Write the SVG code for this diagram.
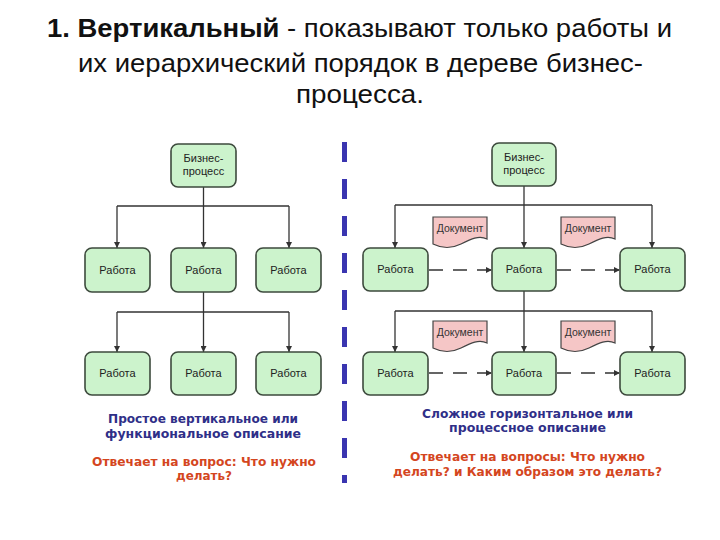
<svg xmlns="http://www.w3.org/2000/svg" width="720" height="540" viewBox="0 0 720 540">
<style>
.title{font-family:"Liberation Sans",Arial,sans-serif;font-size:26px;fill:#111}
.box{fill:#ccf3cc;stroke:#3d4a3d;stroke-width:1.6}
.doc{fill:#f5c6c6;stroke:#444;stroke-width:1.2}
.bt{font-family:"Liberation Sans",Arial,sans-serif;font-size:11px;fill:#222;text-anchor:middle}
.dt{font-family:"Liberation Sans",Arial,sans-serif;font-size:10.5px;fill:#333;text-anchor:middle}
.ln{fill:none;stroke:#333;stroke-width:1.3}
.dash{fill:none;stroke:#333;stroke-width:1.3;stroke-dasharray:14 10}
.blue{font-family:"DejaVu Sans",Verdana,sans-serif;font-weight:bold;font-size:12.5px;fill:#2f2f88;text-anchor:middle}
.red{font-family:"DejaVu Sans",Verdana,sans-serif;font-weight:bold;font-size:12.5px;fill:#d4461e;text-anchor:middle}
</style>
<defs>
<marker id="arr" viewBox="0 0 8 8" refX="8" refY="4" markerWidth="6" markerHeight="6" orient="auto" markerUnits="userSpaceOnUse">
<path d="M0 0 L8 4 L0 8 Z" fill="#333"/>
</marker>
<path id="docshape" d="M0 0 H54 V22 C46 18 38 22 28 27 C18 32 8 31 0 27 Z"/>
</defs>
<rect width="720" height="540" fill="#fff"/>

<g id="title">
<text class="title" x="359.5" y="37" text-anchor="middle" textLength="625" lengthAdjust="spacingAndGlyphs"><tspan font-weight="bold">1. Вертикальный</tspan> - показывают только работы и</text>
<text class="title" x="360.5" y="72" text-anchor="middle" textLength="565" lengthAdjust="spacingAndGlyphs">их иерархический порядок в дереве бизнес-</text>
<text class="title" x="360" y="103" text-anchor="middle" textLength="128" lengthAdjust="spacingAndGlyphs">процесса.</text>
</g>

<g id="divider">
<line x1="344.5" y1="142" x2="344.5" y2="483" stroke="#3a35b0" stroke-width="5" stroke-dasharray="20 17"/>
</g>

<g id="connectors">
<line class="ln" x1="203.5" y1="187" x2="203.5" y2="206" stroke-width="2"/>
<line class="ln" x1="117" y1="206" x2="289" y2="206"/>
<line class="ln" x1="117" y1="206" x2="117" y2="248" marker-end="url(#arr)"/>
<line class="ln" x1="203.5" y1="206" x2="203.5" y2="248" marker-end="url(#arr)"/>
<line class="ln" x1="289" y1="206" x2="289" y2="248" marker-end="url(#arr)"/>
<line class="ln" x1="203.5" y1="292" x2="203.5" y2="312" stroke-width="2"/>
<line class="ln" x1="117" y1="312" x2="289" y2="312"/>
<line class="ln" x1="117" y1="312" x2="117" y2="352" marker-end="url(#arr)"/>
<line class="ln" x1="203.5" y1="312" x2="203.5" y2="352" marker-end="url(#arr)"/>
<line class="ln" x1="289" y1="312" x2="289" y2="352" marker-end="url(#arr)"/>
<line class="ln" x1="524" y1="186" x2="524" y2="248" marker-end="url(#arr)"/>
<line class="ln" x1="395" y1="205" x2="652" y2="205"/>
<line class="ln" x1="395" y1="205" x2="395" y2="248" marker-end="url(#arr)"/>
<line class="ln" x1="652" y1="205" x2="652" y2="248" marker-end="url(#arr)"/>
<line class="ln" x1="524" y1="291" x2="524" y2="352" marker-end="url(#arr)"/>
<line class="ln" x1="395" y1="311" x2="652" y2="311"/>
<line class="ln" x1="395" y1="311" x2="395" y2="352" marker-end="url(#arr)"/>
<line class="ln" x1="652" y1="311" x2="652" y2="352" marker-end="url(#arr)"/>
<line class="dash" x1="429" y1="270" x2="492" y2="270" marker-end="url(#arr)"/>
<line class="dash" x1="557" y1="270" x2="620" y2="270" marker-end="url(#arr)"/>
<line class="dash" x1="429" y1="373" x2="492" y2="373" marker-end="url(#arr)"/>
<line class="dash" x1="557" y1="373" x2="620" y2="373" marker-end="url(#arr)"/>
</g>

<g id="l-bp"><rect class="box" x="171" y="144" width="65" height="43" rx="7"/><text class="bt" x="203.5" y="162" font-size="10.5">Бизнес-</text><text class="bt" x="203.5" y="175" font-size="10.5">процесс</text></g>
<g id="l-r1a"><rect class="box" x="85" y="248" width="65" height="44" rx="7"/><text class="bt" x="117.5" y="274">Работа</text></g>
<g id="l-r1b"><rect class="box" x="171" y="248" width="65" height="44" rx="7"/><text class="bt" x="203.5" y="274">Работа</text></g>
<g id="l-r1c"><rect class="box" x="256" y="248" width="65" height="44" rx="7"/><text class="bt" x="288.5" y="274">Работа</text></g>
<g id="l-r2a"><rect class="box" x="85" y="352" width="65" height="43" rx="7"/><text class="bt" x="117.5" y="377">Работа</text></g>
<g id="l-r2b"><rect class="box" x="171" y="352" width="65" height="43" rx="7"/><text class="bt" x="203.5" y="377">Работа</text></g>
<g id="l-r2c"><rect class="box" x="256" y="352" width="65" height="43" rx="7"/><text class="bt" x="288.5" y="377">Работа</text></g>

<g id="r-bp"><rect class="box" x="492" y="143" width="64" height="43" rx="7"/><text class="bt" x="524" y="161" font-size="10.5">Бизнес-</text><text class="bt" x="524" y="174" font-size="10.5">процесс</text></g>
<g id="r-r1a"><rect class="box" x="363" y="248" width="65" height="43" rx="7"/><text class="bt" x="395.5" y="273">Работа</text></g>
<g id="r-r1b"><rect class="box" x="492" y="248" width="64" height="43" rx="7"/><text class="bt" x="524" y="273">Работа</text></g>
<g id="r-r1c"><rect class="box" x="620" y="248" width="65" height="43" rx="7"/><text class="bt" x="652.5" y="273">Работа</text></g>
<g id="r-r2a"><rect class="box" x="363" y="352" width="65" height="43" rx="7"/><text class="bt" x="395.5" y="377">Работа</text></g>
<g id="r-r2b"><rect class="box" x="492" y="352" width="64" height="43" rx="7"/><text class="bt" x="524" y="377">Работа</text></g>
<g id="r-r2c"><rect class="box" x="620" y="352" width="65" height="43" rx="7"/><text class="bt" x="652.5" y="377">Работа</text></g>

<g id="doc1"><use href="#docshape" class="doc" x="433" y="217"/><text class="dt" x="460" y="232">Документ</text></g>
<g id="doc2"><use href="#docshape" class="doc" x="561" y="217"/><text class="dt" x="588" y="232">Документ</text></g>
<g id="doc3"><use href="#docshape" class="doc" x="433" y="321"/><text class="dt" x="460" y="336">Документ</text></g>
<g id="doc4"><use href="#docshape" class="doc" x="561" y="321"/><text class="dt" x="588" y="336">Документ</text></g>

<g id="left-caption">
<text class="blue" x="203" y="423" textLength="190" lengthAdjust="spacingAndGlyphs">Простое вертикальное или</text>
<text class="blue" x="203" y="438" textLength="196" lengthAdjust="spacingAndGlyphs">функциональное описание</text>
<text class="red" x="204" y="466" textLength="224" lengthAdjust="spacingAndGlyphs">Отвечает на вопрос: Что нужно</text>
<text class="red" x="204" y="480" textLength="56" lengthAdjust="spacingAndGlyphs">делать?</text>
</g>
<g id="right-caption">
<text class="blue" x="527.5" y="418" textLength="211" lengthAdjust="spacingAndGlyphs">Сложное горизонтальное или</text>
<text class="blue" x="527.5" y="432" textLength="157" lengthAdjust="spacingAndGlyphs">процессное описание</text>
<text class="red" x="527.5" y="461" textLength="235" lengthAdjust="spacingAndGlyphs">Отвечает на вопросы: Что нужно</text>
<text class="red" x="527.5" y="476" textLength="269" lengthAdjust="spacingAndGlyphs">делать? и Каким образом это делать?</text>
</g>
</svg>
